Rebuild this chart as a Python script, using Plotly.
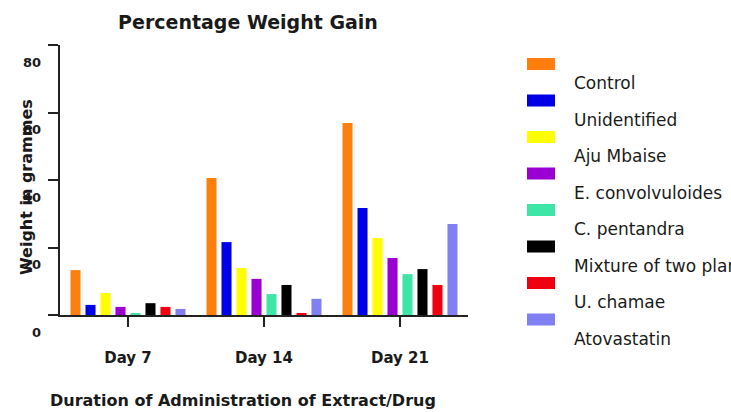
import plotly.graph_objects as go

# ---- data ----
days = ["Day 7", "Day 14", "Day 21"]
series_names = ["Control", "Unidentified", "Aju Mbaise", "E. convolvuloides",
                "C. pentandra", "Mixture of two plants", "U. chamae", "Atovastatin"]
control = [13.3, 40.6, 56.9]
unidentified = [3.0, 21.6, 31.7]
aju_mbaise = [6.5, 13.9, 22.8]
e_convolvuloides = [2.4, 10.7, 16.9]
c_pentandra = [0.3, 6.2, 12.1]
mixture = [3.5, 8.9, 13.6]
u_chamae = [2.4, 0.5, 8.9]
atovastatin = [1.8, 4.8, 27.0]
y_tick_vals = [0, 20, 40, 60, 80]
y_tick_text = ["0", "20", "40", "60", "80"]

all_values = [control, unidentified, aju_mbaise, e_convolvuloides,
              c_pentandra, mixture, u_chamae, atovastatin]
colors = ["#FF7F0E", "#0000E6", "#FFFF00", "#9B00D3",
          "#3DE6A6", "#000000", "#EE0010", "#8080F2"]

# ---- layout geometry (pixels) ----
W, H = 731, 412
PL, PR, PT, PB = 60, 468, 45, 315
FONT = "DejaVu Sans"
TXT = "#1a1a1a"

def px_x(p):
    return (p - PL) / (PR - PL)

def px_y(p):
    return (PB - p) / (PB - PT)

fig = go.Figure()
for name, vals, col in zip(series_names, all_values, colors):
    fig.add_trace(go.Bar(x=days, y=vals, name=name, marker_color=col,
                         marker_line_width=0, showlegend=False))

annotations = []
shapes = []

# y tick labels (offset below ticks as in the reference)
for v, t in zip(y_tick_vals, y_tick_text):
    annotations.append(dict(x=0, xref="paper", y=v, yref="y", text="<b>" + t + "</b>",
                            showarrow=False, xanchor="right", yanchor="middle",
                            xshift=-17, yshift=-17,
                            font=dict(family=FONT, size=13, color=TXT)))

# custom legend: swatch with label below-right
for i, (name, col) in enumerate(zip(series_names, colors)):
    cy = 64 + i * 36.5
    shapes.append(dict(type="rect", xref="paper", yref="paper",
                       x0=px_x(527), x1=px_x(555),
                       y0=px_y(cy + 6), y1=px_y(cy - 6),
                       fillcolor=col, line=dict(width=0)))
    annotations.append(dict(x=px_x(572), xref="paper", y=px_y(cy + 19), yref="paper",
                            text=name, showarrow=False, xanchor="left",
                            yanchor="middle",
                            font=dict(family=FONT, size=17, color=TXT)))

# axis titles
annotations.append(dict(x=px_x(243), y=px_y(400), xref="paper", yref="paper",
                        text="<b>Duration of Administration of Extract/Drug</b>",
                        showarrow=False, xanchor="center", yanchor="middle",
                        font=dict(family=FONT, size=16, color=TXT)))
annotations.append(dict(x=px_x(26), y=px_y(187), xref="paper", yref="paper",
                        text="<b>Weight in grammes</b>", textangle=-90,
                        showarrow=False, xanchor="center", yanchor="middle",
                        font=dict(family=FONT, size=16, color=TXT)))

fig.update_layout(
    width=W, height=H,
    margin=dict(l=PL, r=W - PR, t=PT, b=H - PB),
    paper_bgcolor="white", plot_bgcolor="white",
    barmode="group", bargap=0.118, bargroupgap=0.33,
    title=dict(text="<b>Percentage Weight Gain</b>", x=248 / W, xanchor="center",
               y=1 - 22 / H, yanchor="middle",
               font=dict(family=FONT, size=19, color=TXT)),
    xaxis=dict(showline=True, linecolor="#222", linewidth=2,
               ticks="outside", ticklen=10, tickwidth=2, tickcolor="#222",
               ticklabelstandoff=18, showgrid=False, zeroline=False,
               tickfont=dict(family=FONT, size=15, color=TXT),
               tickprefix="<b>", ticksuffix="</b>"),
    yaxis=dict(range=[0, 80], showline=True, linecolor="#222", linewidth=2,
               ticks="outside", ticklen=10, tickwidth=2, tickcolor="#222",
               tickvals=y_tick_vals, showticklabels=False,
               showgrid=False, zeroline=False),
    annotations=annotations, shapes=shapes,
)

fig.write_html("out.html", config={"displayModeBar": False},
               post_script="document.body.style.margin='0';document.body.style.padding='0';")
